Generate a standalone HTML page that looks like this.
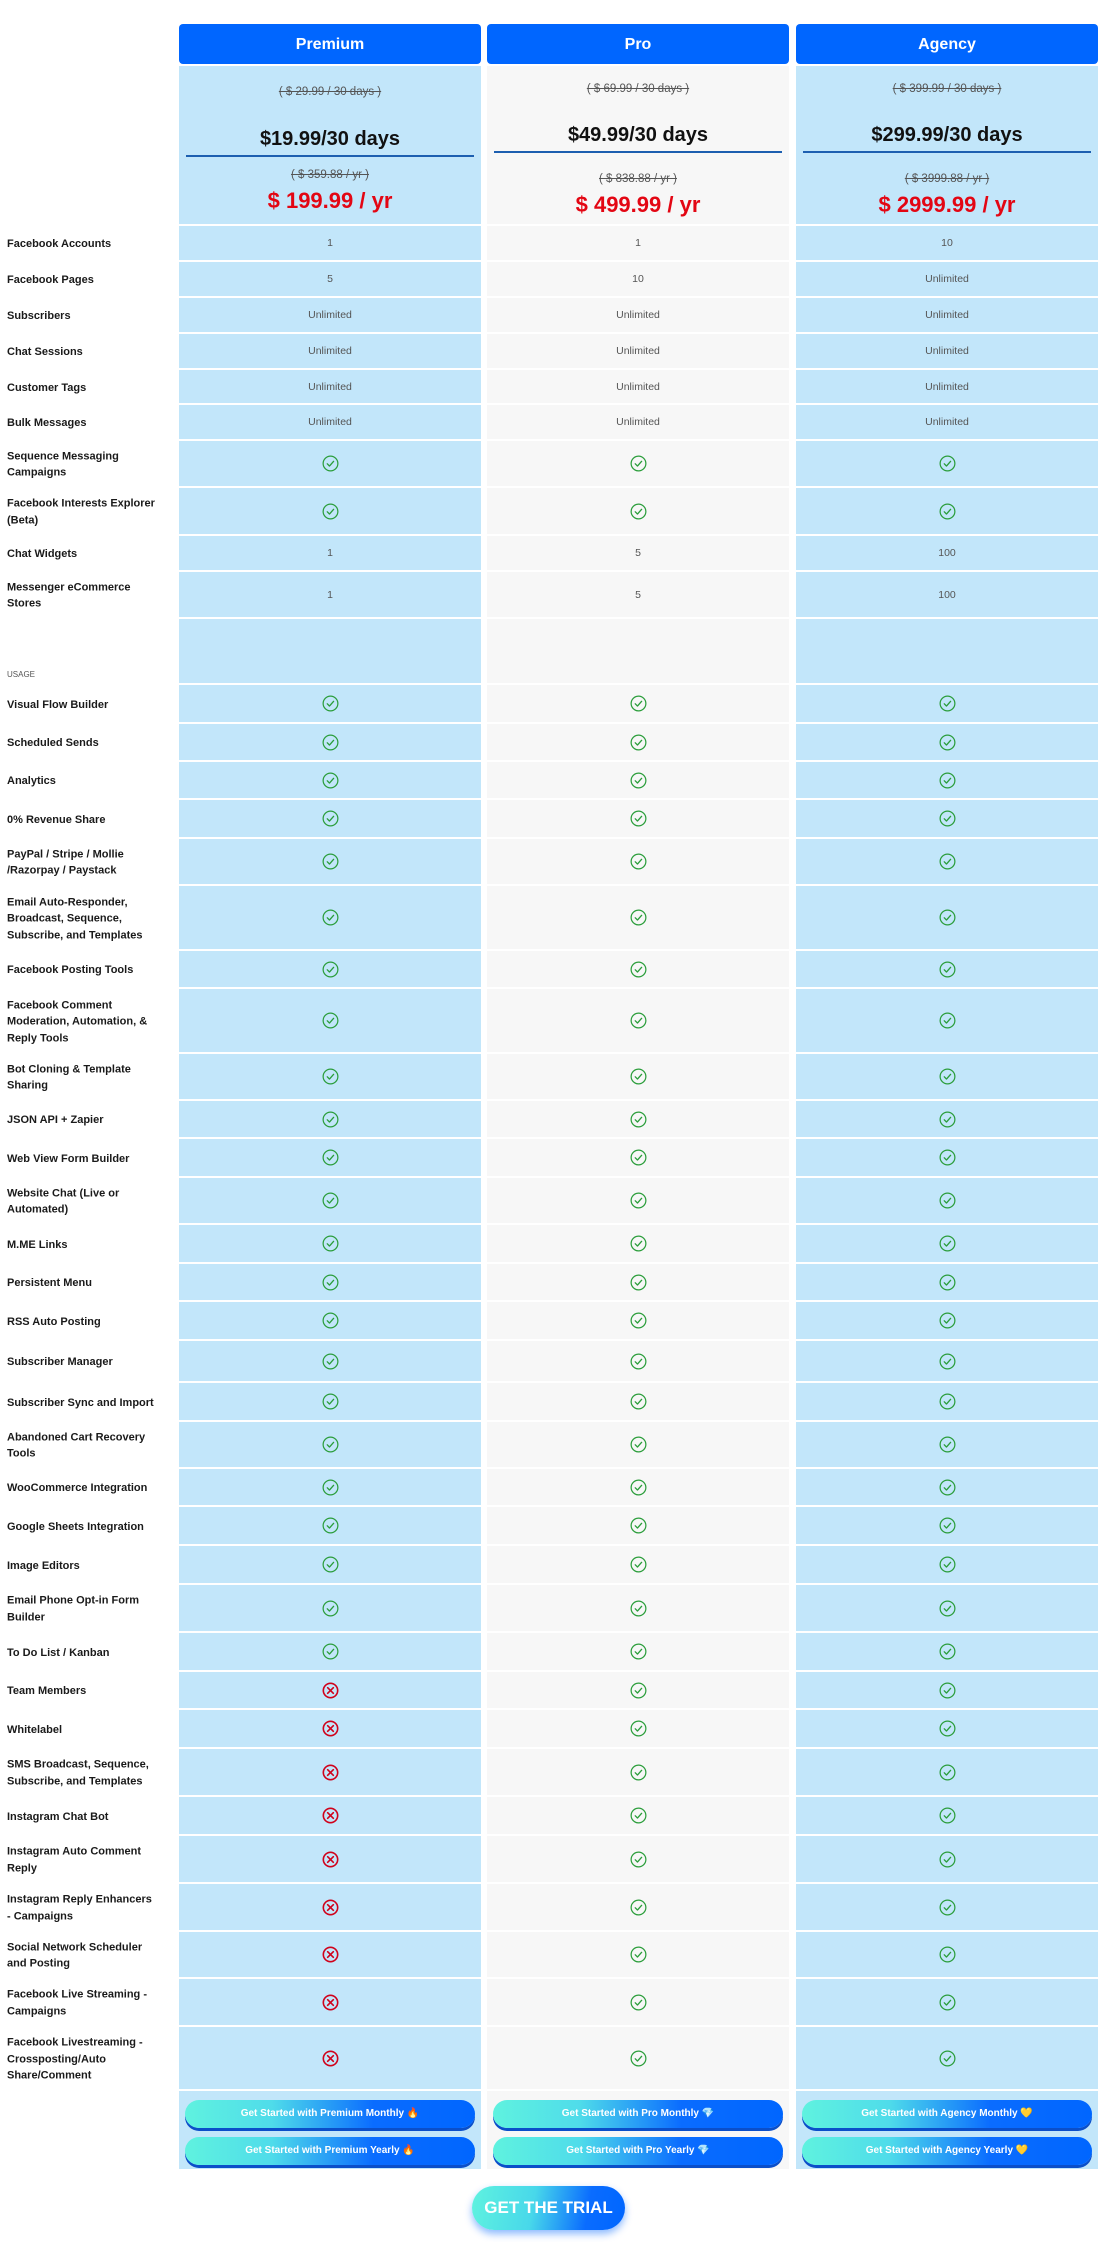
<!DOCTYPE html>
<html><head><meta charset="utf-8"><style>
*{margin:0;padding:0;box-sizing:border-box}
body{width:1108px;height:2242px;background:#fff;font-family:"Liberation Sans",sans-serif;position:relative;overflow:hidden}
.hd{position:absolute;top:24px;height:40px;width:302px;background:#0066ff;border-radius:4px;color:#fff;font-size:16px;font-weight:bold;text-align:center;line-height:42px}
.price{position:absolute;top:66px;height:160px;width:302px;text-align:center;border-bottom:2px solid #fff}
.s1{position:absolute;top:20px;width:100%;font-size:11.5px;color:#555;text-decoration:line-through}
.mp{position:absolute;width:100%;font-size:20px;font-weight:bold;color:#111}
.ln{position:absolute;left:7px;right:7px;height:2px;background:#1d5fb0}
.s2{position:absolute;width:100%;font-size:11.5px;color:#555;text-decoration:line-through}
.rp{position:absolute;width:100%;font-size:22px;font-weight:bold;color:#e30613}
.row{position:absolute;left:0;width:1108px}
.row .lb{position:absolute;left:7px;top:50%;transform:translateY(-50%);width:150px;font-size:11px;font-weight:bold;color:#1a1a1a;line-height:16.5px}
.row .c{position:absolute;top:0;bottom:0;width:302px;border-bottom:2px solid #fff;display:flex;align-items:center;justify-content:center;font-size:10.5px;color:#555}
.c1{left:179px;background:#c2e6fa}.c2{left:487px;background:#f7f7f7}.c3{left:796px;background:#c2e6fa}
.bt{position:absolute;width:290px;height:28px;border-radius:14px;background:linear-gradient(90deg,#5ff2df 0%,#4fdcea 30%,#0a6cff 65%,#0066ff 100%);box-shadow:0 3px 0 #0b4fc9;color:#fff;font-size:10px;font-weight:bold;text-align:center;line-height:27px}
</style></head><body>
<div class="hd" style="left:179px">Premium</div>
<div class="hd" style="left:487px">Pro</div>
<div class="hd" style="left:796px">Agency</div>

<div class="price" style="left:179px;background:#c2e6fa">
<div class="s1">( $ 29.99 / 30 days )</div>
<div class="mp" style="top:62px">$19.99/30 days</div>
<div class="ln" style="top:89px"></div>
<div class="s2" style="top:103px">( $ 359.88 / yr )</div>
<div class="rp" style="top:122px">$ 199.99 / yr</div>
</div>
<div class="price" style="left:487px;background:#f7f7f7">
<div class="s1" style="top:17px">( $ 69.99 / 30 days )</div>
<div class="mp" style="top:58px">$49.99/30 days</div>
<div class="ln" style="top:85px"></div>
<div class="s2" style="top:107px">( $ 838.88 / yr )</div>
<div class="rp" style="top:126px">$ 499.99 / yr</div>
</div>
<div class="price" style="left:796px;background:#c2e6fa">
<div class="s1" style="top:17px">( $ 399.99 / 30 days )</div>
<div class="mp" style="top:58px">$299.99/30 days</div>
<div class="ln" style="top:85px"></div>
<div class="s2" style="top:107px">( $ 3999.88 / yr )</div>
<div class="rp" style="top:126px">$ 2999.99 / yr</div>
</div>

<svg width="0" height="0" style="position:absolute"><defs>
<symbol id="ok" viewBox="0 0 18 18"><circle cx="9" cy="9" r="7.8" fill="none" stroke="#2a9d3a" stroke-width="1.3"/><path d="M5.6 9.3l2.3 2.4 4.4-5" fill="none" stroke="#2a9d3a" stroke-width="1.4" stroke-linecap="round" stroke-linejoin="round"/></symbol>
<symbol id="no" viewBox="0 0 18 18"><circle cx="9" cy="9" r="7.6" fill="none" stroke="#d0021b" stroke-width="1.7"/><path d="M6 6l6 6M12 6l-6 6" stroke="#d0021b" stroke-width="1.7" stroke-linecap="round"/></symbol>
</defs></svg>

<div class="row" style="top:226px;height:36px"><div class="lb">Facebook Accounts</div><div class="c c1">1</div><div class="c c2">1</div><div class="c c3">10</div></div>
<div class="row" style="top:262px;height:36px"><div class="lb">Facebook Pages</div><div class="c c1">5</div><div class="c c2">10</div><div class="c c3">Unlimited</div></div>
<div class="row" style="top:298px;height:36px"><div class="lb">Subscribers</div><div class="c c1">Unlimited</div><div class="c c2">Unlimited</div><div class="c c3">Unlimited</div></div>
<div class="row" style="top:334px;height:36px"><div class="lb">Chat Sessions</div><div class="c c1">Unlimited</div><div class="c c2">Unlimited</div><div class="c c3">Unlimited</div></div>
<div class="row" style="top:370px;height:35px"><div class="lb">Customer Tags</div><div class="c c1">Unlimited</div><div class="c c2">Unlimited</div><div class="c c3">Unlimited</div></div>
<div class="row" style="top:405px;height:36px"><div class="lb">Bulk Messages</div><div class="c c1">Unlimited</div><div class="c c2">Unlimited</div><div class="c c3">Unlimited</div></div>
<div class="row" style="top:441px;height:47px"><div class="lb">Sequence Messaging Campaigns</div><div class="c c1"><svg width="17" height="17"><use href="#ok"/></svg></div><div class="c c2"><svg width="17" height="17"><use href="#ok"/></svg></div><div class="c c3"><svg width="17" height="17"><use href="#ok"/></svg></div></div>
<div class="row" style="top:488px;height:48px"><div class="lb">Facebook Interests Explorer (Beta)</div><div class="c c1"><svg width="17" height="17"><use href="#ok"/></svg></div><div class="c c2"><svg width="17" height="17"><use href="#ok"/></svg></div><div class="c c3"><svg width="17" height="17"><use href="#ok"/></svg></div></div>
<div class="row" style="top:536px;height:36px"><div class="lb">Chat Widgets</div><div class="c c1">1</div><div class="c c2">5</div><div class="c c3">100</div></div>
<div class="row" style="top:572px;height:47px"><div class="lb">Messenger eCommerce Stores</div><div class="c c1">1</div><div class="c c2">5</div><div class="c c3">100</div></div>
<div class="row" style="top:619px;height:66px"><div class="lb" style="top:48px;transform:none;font-size:8px;font-weight:normal;color:#555">USAGE</div><div class="c c1"></div><div class="c c2"></div><div class="c c3"></div></div>

<div class="row" style="top:685px;height:39px"><div class="lb">Visual Flow Builder</div><div class="c c1"><svg width="17" height="17"><use href="#ok"/></svg></div><div class="c c2"><svg width="17" height="17"><use href="#ok"/></svg></div><div class="c c3"><svg width="17" height="17"><use href="#ok"/></svg></div></div>
<div class="row" style="top:724px;height:38px"><div class="lb">Scheduled Sends</div><div class="c c1"><svg width="17" height="17"><use href="#ok"/></svg></div><div class="c c2"><svg width="17" height="17"><use href="#ok"/></svg></div><div class="c c3"><svg width="17" height="17"><use href="#ok"/></svg></div></div>
<div class="row" style="top:762px;height:38px"><div class="lb">Analytics</div><div class="c c1"><svg width="17" height="17"><use href="#ok"/></svg></div><div class="c c2"><svg width="17" height="17"><use href="#ok"/></svg></div><div class="c c3"><svg width="17" height="17"><use href="#ok"/></svg></div></div>
<div class="row" style="top:800px;height:39px"><div class="lb">0% Revenue Share</div><div class="c c1"><svg width="17" height="17"><use href="#ok"/></svg></div><div class="c c2"><svg width="17" height="17"><use href="#ok"/></svg></div><div class="c c3"><svg width="17" height="17"><use href="#ok"/></svg></div></div>
<div class="row" style="top:839px;height:47px"><div class="lb">PayPal / Stripe / Mollie /Razorpay / Paystack</div><div class="c c1"><svg width="17" height="17"><use href="#ok"/></svg></div><div class="c c2"><svg width="17" height="17"><use href="#ok"/></svg></div><div class="c c3"><svg width="17" height="17"><use href="#ok"/></svg></div></div>
<div class="row" style="top:886px;height:65px"><div class="lb">Email Auto-Responder, Broadcast, Sequence, Subscribe, and Templates</div><div class="c c1"><svg width="17" height="17"><use href="#ok"/></svg></div><div class="c c2"><svg width="17" height="17"><use href="#ok"/></svg></div><div class="c c3"><svg width="17" height="17"><use href="#ok"/></svg></div></div>
<div class="row" style="top:951px;height:38px"><div class="lb">Facebook Posting Tools</div><div class="c c1"><svg width="17" height="17"><use href="#ok"/></svg></div><div class="c c2"><svg width="17" height="17"><use href="#ok"/></svg></div><div class="c c3"><svg width="17" height="17"><use href="#ok"/></svg></div></div>
<div class="row" style="top:989px;height:65px"><div class="lb">Facebook Comment Moderation, Automation, &amp; Reply Tools</div><div class="c c1"><svg width="17" height="17"><use href="#ok"/></svg></div><div class="c c2"><svg width="17" height="17"><use href="#ok"/></svg></div><div class="c c3"><svg width="17" height="17"><use href="#ok"/></svg></div></div>
<div class="row" style="top:1054px;height:47px"><div class="lb">Bot Cloning &amp; Template Sharing</div><div class="c c1"><svg width="17" height="17"><use href="#ok"/></svg></div><div class="c c2"><svg width="17" height="17"><use href="#ok"/></svg></div><div class="c c3"><svg width="17" height="17"><use href="#ok"/></svg></div></div>
<div class="row" style="top:1101px;height:38px"><div class="lb">JSON API + Zapier</div><div class="c c1"><svg width="17" height="17"><use href="#ok"/></svg></div><div class="c c2"><svg width="17" height="17"><use href="#ok"/></svg></div><div class="c c3"><svg width="17" height="17"><use href="#ok"/></svg></div></div>
<div class="row" style="top:1139px;height:39px"><div class="lb">Web View Form Builder</div><div class="c c1"><svg width="17" height="17"><use href="#ok"/></svg></div><div class="c c2"><svg width="17" height="17"><use href="#ok"/></svg></div><div class="c c3"><svg width="17" height="17"><use href="#ok"/></svg></div></div>
<div class="row" style="top:1178px;height:47px"><div class="lb">Website Chat (Live or Automated)</div><div class="c c1"><svg width="17" height="17"><use href="#ok"/></svg></div><div class="c c2"><svg width="17" height="17"><use href="#ok"/></svg></div><div class="c c3"><svg width="17" height="17"><use href="#ok"/></svg></div></div>
<div class="row" style="top:1225px;height:39px"><div class="lb">M.ME Links</div><div class="c c1"><svg width="17" height="17"><use href="#ok"/></svg></div><div class="c c2"><svg width="17" height="17"><use href="#ok"/></svg></div><div class="c c3"><svg width="17" height="17"><use href="#ok"/></svg></div></div>
<div class="row" style="top:1264px;height:38px"><div class="lb">Persistent Menu</div><div class="c c1"><svg width="17" height="17"><use href="#ok"/></svg></div><div class="c c2"><svg width="17" height="17"><use href="#ok"/></svg></div><div class="c c3"><svg width="17" height="17"><use href="#ok"/></svg></div></div>
<div class="row" style="top:1302px;height:39px"><div class="lb">RSS Auto Posting</div><div class="c c1"><svg width="17" height="17"><use href="#ok"/></svg></div><div class="c c2"><svg width="17" height="17"><use href="#ok"/></svg></div><div class="c c3"><svg width="17" height="17"><use href="#ok"/></svg></div></div>
<div class="row" style="top:1341px;height:42px"><div class="lb">Subscriber Manager</div><div class="c c1"><svg width="17" height="17"><use href="#ok"/></svg></div><div class="c c2"><svg width="17" height="17"><use href="#ok"/></svg></div><div class="c c3"><svg width="17" height="17"><use href="#ok"/></svg></div></div>
<div class="row" style="top:1383px;height:39px"><div class="lb">Subscriber Sync and Import</div><div class="c c1"><svg width="17" height="17"><use href="#ok"/></svg></div><div class="c c2"><svg width="17" height="17"><use href="#ok"/></svg></div><div class="c c3"><svg width="17" height="17"><use href="#ok"/></svg></div></div>
<div class="row" style="top:1422px;height:47px"><div class="lb">Abandoned Cart Recovery Tools</div><div class="c c1"><svg width="17" height="17"><use href="#ok"/></svg></div><div class="c c2"><svg width="17" height="17"><use href="#ok"/></svg></div><div class="c c3"><svg width="17" height="17"><use href="#ok"/></svg></div></div>
<div class="row" style="top:1469px;height:38px"><div class="lb">WooCommerce Integration</div><div class="c c1"><svg width="17" height="17"><use href="#ok"/></svg></div><div class="c c2"><svg width="17" height="17"><use href="#ok"/></svg></div><div class="c c3"><svg width="17" height="17"><use href="#ok"/></svg></div></div>
<div class="row" style="top:1507px;height:39px"><div class="lb">Google Sheets Integration</div><div class="c c1"><svg width="17" height="17"><use href="#ok"/></svg></div><div class="c c2"><svg width="17" height="17"><use href="#ok"/></svg></div><div class="c c3"><svg width="17" height="17"><use href="#ok"/></svg></div></div>
<div class="row" style="top:1546px;height:39px"><div class="lb">Image Editors</div><div class="c c1"><svg width="17" height="17"><use href="#ok"/></svg></div><div class="c c2"><svg width="17" height="17"><use href="#ok"/></svg></div><div class="c c3"><svg width="17" height="17"><use href="#ok"/></svg></div></div>
<div class="row" style="top:1585px;height:48px"><div class="lb">Email Phone Opt-in Form Builder</div><div class="c c1"><svg width="17" height="17"><use href="#ok"/></svg></div><div class="c c2"><svg width="17" height="17"><use href="#ok"/></svg></div><div class="c c3"><svg width="17" height="17"><use href="#ok"/></svg></div></div>
<div class="row" style="top:1633px;height:39px"><div class="lb">To Do List / Kanban</div><div class="c c1"><svg width="17" height="17"><use href="#ok"/></svg></div><div class="c c2"><svg width="17" height="17"><use href="#ok"/></svg></div><div class="c c3"><svg width="17" height="17"><use href="#ok"/></svg></div></div>
<div class="row" style="top:1672px;height:38px"><div class="lb">Team Members</div><div class="c c1"><svg width="17" height="17"><use href="#no"/></svg></div><div class="c c2"><svg width="17" height="17"><use href="#ok"/></svg></div><div class="c c3"><svg width="17" height="17"><use href="#ok"/></svg></div></div>
<div class="row" style="top:1710px;height:39px"><div class="lb">Whitelabel</div><div class="c c1"><svg width="17" height="17"><use href="#no"/></svg></div><div class="c c2"><svg width="17" height="17"><use href="#ok"/></svg></div><div class="c c3"><svg width="17" height="17"><use href="#ok"/></svg></div></div>
<div class="row" style="top:1749px;height:48px"><div class="lb">SMS Broadcast, Sequence, Subscribe, and Templates</div><div class="c c1"><svg width="17" height="17"><use href="#no"/></svg></div><div class="c c2"><svg width="17" height="17"><use href="#ok"/></svg></div><div class="c c3"><svg width="17" height="17"><use href="#ok"/></svg></div></div>
<div class="row" style="top:1797px;height:39px"><div class="lb">Instagram Chat Bot</div><div class="c c1"><svg width="17" height="17"><use href="#no"/></svg></div><div class="c c2"><svg width="17" height="17"><use href="#ok"/></svg></div><div class="c c3"><svg width="17" height="17"><use href="#ok"/></svg></div></div>
<div class="row" style="top:1836px;height:48px"><div class="lb">Instagram Auto Comment Reply</div><div class="c c1"><svg width="17" height="17"><use href="#no"/></svg></div><div class="c c2"><svg width="17" height="17"><use href="#ok"/></svg></div><div class="c c3"><svg width="17" height="17"><use href="#ok"/></svg></div></div>
<div class="row" style="top:1884px;height:48px"><div class="lb">Instagram Reply Enhancers - Campaigns</div><div class="c c1"><svg width="17" height="17"><use href="#no"/></svg></div><div class="c c2"><svg width="17" height="17"><use href="#ok"/></svg></div><div class="c c3"><svg width="17" height="17"><use href="#ok"/></svg></div></div>
<div class="row" style="top:1932px;height:47px"><div class="lb">Social Network Scheduler and Posting</div><div class="c c1"><svg width="17" height="17"><use href="#no"/></svg></div><div class="c c2"><svg width="17" height="17"><use href="#ok"/></svg></div><div class="c c3"><svg width="17" height="17"><use href="#ok"/></svg></div></div>
<div class="row" style="top:1979px;height:48px"><div class="lb">Facebook Live Streaming - Campaigns</div><div class="c c1"><svg width="17" height="17"><use href="#no"/></svg></div><div class="c c2"><svg width="17" height="17"><use href="#ok"/></svg></div><div class="c c3"><svg width="17" height="17"><use href="#ok"/></svg></div></div>
<div class="row" style="top:2027px;height:64px"><div class="lb">Facebook Livestreaming - Crossposting/Auto Share/Comment</div><div class="c c1"><svg width="17" height="17"><use href="#no"/></svg></div><div class="c c2"><svg width="17" height="17"><use href="#ok"/></svg></div><div class="c c3"><svg width="17" height="17"><use href="#ok"/></svg></div></div>

<div style="position:absolute;top:2091px;left:179px;width:302px;height:78px;background:#c2e6fa"></div>
<div style="position:absolute;top:2091px;left:487px;width:302px;height:78px;background:#f7f7f7"></div>
<div style="position:absolute;top:2091px;left:796px;width:302px;height:78px;background:#c2e6fa"></div>
<div class="bt" style="left:185px;top:2100px">Get Started with Premium Monthly 🔥</div>
<div class="bt" style="left:185px;top:2137px">Get Started with Premium Yearly 🔥</div>
<div class="bt" style="left:493px;top:2100px">Get Started with Pro Monthly 💎</div>
<div class="bt" style="left:493px;top:2137px">Get Started with Pro Yearly 💎</div>
<div class="bt" style="left:802px;top:2100px">Get Started with Agency Monthly 💛</div>
<div class="bt" style="left:802px;top:2137px">Get Started with Agency Yearly 💛</div>

<div style="position:absolute;left:472px;top:2186px;width:153px;height:44px;border-radius:22px;background:linear-gradient(100deg,#5ff2df 0%,#48d8ea 40%,#0a6cff 75%,#0066ff 100%);box-shadow:0 4px 8px rgba(0,102,255,.45);color:#fff;font-size:17px;font-weight:bold;text-align:center;line-height:44px">GET THE TRIAL</div>
</body></html>
